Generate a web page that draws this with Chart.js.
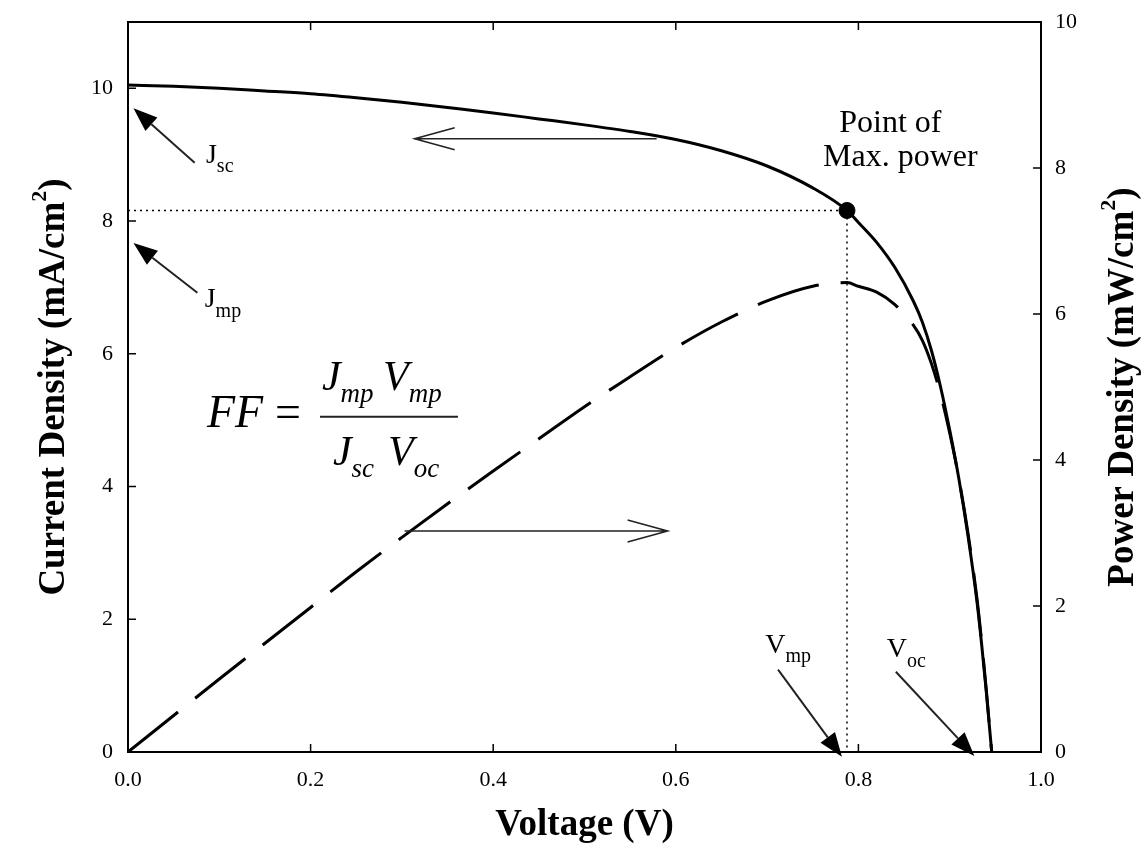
<!DOCTYPE html>
<html>
<head>
<meta charset="utf-8">
<script src="https://cdn.jsdelivr.net/npm/chart.js@4.4.1/dist/chart.umd.min.js"></script>
<style>
  html, body { margin: 0; padding: 0; background: #fff; }
  #wrap { width: 1144px; height: 848px; }
</style>
</head>
<body>
<div id="wrap"><canvas id="jv-chart" width="1144" height="848"></canvas></div>
<script>
// J-V and P-V curves of the cell
const voltage = [0, 0.05, 0.10, 0.15, 0.20, 0.25, 0.30, 0.35, 0.40, 0.45, 0.50, 0.55, 0.60, 0.65, 0.70,
  0.75, 0.7875, 0.80, 0.82, 0.84, 0.86, 0.87, 0.88, 0.89, 0.90, 0.91, 0.92, 0.93, 0.935, 0.94, 0.946];
const currentDensity = [10.05, 10.03, 10.00, 9.96, 9.92, 9.86, 9.79, 9.71, 9.63, 9.54, 9.45, 9.35, 9.23, 9.06, 8.83,
  8.50, 8.16, 7.98, 7.68, 7.30, 6.80, 6.48, 6.05, 5.50, 4.85, 4.12, 3.26, 2.25, 1.62, 0.92, 0.00];
const powerDensity = [0, 0.50, 1.00, 1.49, 1.98, 2.47, 2.94, 3.40, 3.85, 4.29, 4.73, 5.14, 5.54, 5.89, 6.18,
  6.38, 6.43, 6.38, 6.30, 6.13, 5.85, 5.64, 5.32, 4.90, 4.37, 3.75, 3.00, 2.09, 1.51, 0.86, 0.00];

// point of max. power
const vMp = 0.7875;
const jMp = 8.16;

// tick labels
const xTicks = [0, 0.2, 0.4, 0.6, 0.8, 1.0];
const jTicks = [0, 2, 4, 6, 8, 10];
const pTicks = [0, 2, 4, 6, 8, 10];

const SERIF = '"Liberation Serif", "Times New Roman", serif';

const toPoints = (xs, ys) => xs.map((x, i) => ({ x: x, y: ys[i] }));
const fixedTicks = list => scale => { scale.ticks = list.map(v => ({ value: v })); };
// fixed axis size, no extra room for overhanging labels
const fixSize = (w, h) => s => {
  if (w) s.width = w;
  if (h) s.height = h;
  s.paddingTop = s.paddingBottom = s.paddingLeft = s.paddingRight = 0;
};

// text with a subscript (J_sc, V_mp ...)
function subText(ctx, main, sub, x, y, size, subSize, style, drop) {
  ctx.font = style + size + 'px ' + SERIF;
  ctx.fillText(main, x, y);
  const w = ctx.measureText(main).width;
  ctx.font = style + subSize + 'px ' + SERIF;
  ctx.fillText(sub, x + w, y + drop);
  return x + w + ctx.measureText(sub).width;
}

function filledArrow(ctx, x1, y1, x2, y2) {
  const a = Math.atan2(y2 - y1, x2 - x1), c = Math.cos(a), s = Math.sin(a);
  const len = 24, half = 9;
  ctx.beginPath();
  ctx.moveTo(x1, y1);
  ctx.lineTo(x2 - len * c, y2 - len * s);
  ctx.stroke();
  ctx.beginPath();
  ctx.moveTo(x2, y2);
  ctx.lineTo(x2 - len * c + half * s, y2 - len * s - half * c);
  ctx.lineTo(x2 - len * c - half * s, y2 - len * s + half * c);
  ctx.closePath();
  ctx.fill();
}

function openArrow(ctx, x1, y1, x2, y2) {
  const dir = Math.sign(x2 - x1);
  ctx.beginPath();
  ctx.moveTo(x1, y1); ctx.lineTo(x2, y2);
  ctx.moveTo(x2 - dir * 40, y2 - 11); ctx.lineTo(x2, y2); ctx.lineTo(x2 - dir * 40, y2 + 11);
  ctx.stroke();
}

function verticalTitle(ctx, cx, cy, text, tail) {
  ctx.save();
  ctx.translate(cx, cy);
  ctx.rotate(-Math.PI / 2);
  ctx.textAlign = 'left';
  ctx.textBaseline = 'alphabetic';
  const big = 'bold 37px ' + SERIF, small = 'bold 22px ' + SERIF;
  ctx.font = big; const w1 = ctx.measureText(text).width;
  ctx.font = small; const w2 = ctx.measureText('2').width;
  ctx.font = big; const w3 = ctx.measureText(tail).width;
  let x = -(w1 + w2 + w3) / 2;
  ctx.fillText(text, x, 0); x += w1;
  ctx.font = small; ctx.fillText('2', x, -18); x += w2;
  ctx.font = big; ctx.fillText(tail, x, 0);
  ctx.restore();
}

const decorations = {
  id: 'decorations',
  afterDatasetsDraw(chart) {
    const { ctx, chartArea: a, scales } = chart;
    const X = v => scales.x.getPixelForValue(v);
    const Y = j => scales.y.getPixelForValue(j);
    const Y2 = p => scales.y2.getPixelForValue(p);
    ctx.save();
    ctx.strokeStyle = '#000';
    ctx.fillStyle = '#000';

    // frame and inward ticks
    ctx.lineWidth = 2;
    ctx.strokeRect(a.left, a.top, a.right - a.left, a.bottom - a.top);
    ctx.lineWidth = 1.5;
    ctx.beginPath();
    xTicks.forEach(v => {
      ctx.moveTo(X(v), a.bottom); ctx.lineTo(X(v), a.bottom - 8);
      ctx.moveTo(X(v), a.top); ctx.lineTo(X(v), a.top + 8);
    });
    jTicks.forEach(v => { ctx.moveTo(a.left, Y(v)); ctx.lineTo(a.left + 8, Y(v)); });
    pTicks.forEach(v => { ctx.moveTo(a.right, Y2(v)); ctx.lineTo(a.right - 8, Y2(v)); });
    ctx.stroke();

    // pointer arrows
    ctx.strokeStyle = '#222';
    ctx.fillStyle = '#000';
    ctx.lineWidth = 2;
    filledArrow(ctx, X(0.073), Y(8.88), X(0.006), Y(9.70));
    filledArrow(ctx, X(0.076), Y(6.92), X(0.006), Y(7.67));
    filledArrow(ctx, X(0.712), Y(1.24), X(0.782), Y(-0.07));
    filledArrow(ctx, X(0.841), Y(1.21), X(0.927), Y(-0.06));

    // direction arrows
    ctx.lineWidth = 1.6;
    openArrow(ctx, X(0.579), Y(9.24), X(0.314), Y(9.24));
    openArrow(ctx, X(0.303), Y(3.33), X(0.591), Y(3.33));

    // labels
    ctx.textAlign = 'left';
    ctx.textBaseline = 'alphabetic';
    subText(ctx, 'J', 'sc', X(0.0854), Y(8.88), 28, 20, '', 9);
    subText(ctx, 'J', 'mp', X(0.084), Y(6.71), 28, 20, '', 10);
    subText(ctx, 'V', 'mp', X(0.698), Y(1.49), 28, 20, '', 9);
    subText(ctx, 'V', 'oc', X(0.831), Y(1.43), 28, 20, '', 10);

    ctx.textAlign = 'center';
    ctx.font = '32px ' + SERIF;
    ctx.fillText('Point of', X(0.835), Y(9.34));
    ctx.fillText('Max. power', X(0.846), Y(8.83));

    // fill factor formula
    ctx.textAlign = 'left';
    const fx = X(0.0865), fy = Y(4.90);
    ctx.font = 'italic 46px ' + SERIF;
    ctx.fillText('FF', fx, fy);
    ctx.font = '46px ' + SERIF;
    ctx.fillText('=', fx + 68, fy);
    ctx.lineWidth = 2;
    ctx.beginPath(); ctx.moveTo(fx + 113, fy - 10); ctx.lineTo(fx + 251, fy - 10); ctx.stroke();
    subText(ctx, 'J', 'mp', fx + 115, fy - 37, 42, 27, 'italic ', 12);
    subText(ctx, 'V', 'mp', fx + 176, fy - 37, 42, 27, 'italic ', 12);
    subText(ctx, 'J', 'sc', fx + 126, fy + 38, 42, 27, 'italic ', 12);
    subText(ctx, 'V', 'oc', fx + 181, fy + 38, 42, 27, 'italic ', 12);
    ctx.restore();
  },
  afterDraw(chart) {
    const { ctx, chartArea: a } = chart;
    ctx.save();
    ctx.fillStyle = '#000';
    ctx.textAlign = 'center';
    ctx.textBaseline = 'alphabetic';
    ctx.font = 'bold 37px ' + SERIF;
    ctx.fillText('Voltage (V)', (a.left + a.right) / 2, 835);
    const mid = (a.top + a.bottom) / 2;
    verticalTitle(ctx, 64, mid, 'Current Density (mA/cm', ')');
    verticalTitle(ctx, 1133, mid, 'Power Density (mW/cm', ')');
    ctx.restore();
  }
};

const tickFont = { family: SERIF, size: 22 };

new Chart(document.getElementById('jv-chart').getContext('2d'), {
  type: 'line',
  data: {
    datasets: [
      {
        data: [{ x: vMp, y: jMp }],
        yAxisID: 'y',
        showLine: false,
        pointRadius: 8,
        pointBackgroundColor: '#000',
        pointBorderColor: '#000',
        order: 0
      },
      {
        data: toPoints(voltage, currentDensity),
        yAxisID: 'y',
        borderColor: '#000',
        borderWidth: 3,
        pointRadius: 0,
        cubicInterpolationMode: 'monotone',
        order: 1
      },
      {
        data: toPoints(voltage, powerDensity),
        yAxisID: 'y2',
        borderColor: '#000',
        borderWidth: 3,
        borderDash: [64, 22],
        pointRadius: 0,
        cubicInterpolationMode: 'monotone',
        order: 2
      },
      {
        // dotted guides to the max. power point
        data: [{ x: 0, y: jMp }, { x: vMp, y: jMp }, { x: vMp, y: 0 }],
        yAxisID: 'y',
        borderColor: '#000',
        borderWidth: 1.5,
        borderDash: [2, 4],
        pointRadius: 0,
        order: 3
      }
    ]
  },
  options: {
    responsive: false,
    animation: false,
    layout: { padding: { top: 22, right: 0, bottom: 0, left: 0 } },
    plugins: { legend: { display: false }, tooltip: { enabled: false } },
    scales: {
      x: {
        type: 'linear',
        min: 0,
        max: 1,
        grid: { display: false, drawTicks: false },
        border: { display: false },
        afterBuildTicks: fixedTicks(xTicks),
        afterFit: fixSize(0, 96),
        ticks: { font: tickFont, color: '#000', padding: 15, maxRotation: 0, callback: v => v.toFixed(1) }
      },
      y: {
        position: 'left',
        min: 0,
        max: 11,
        grid: { display: false, drawTicks: false },
        border: { display: false },
        afterBuildTicks: fixedTicks(jTicks),
        afterFit: fixSize(128, 0),
        ticks: { font: tickFont, color: '#000', padding: 15 }
      },
      y2: {
        position: 'right',
        min: 0,
        max: 10,
        grid: { display: false, drawTicks: false },
        border: { display: false },
        afterBuildTicks: fixedTicks(pTicks),
        afterFit: fixSize(103, 0),
        ticks: { font: tickFont, color: '#000', padding: 14 }
      }
    }
  },
  plugins: [decorations]
});
</script>
</body>
</html>
